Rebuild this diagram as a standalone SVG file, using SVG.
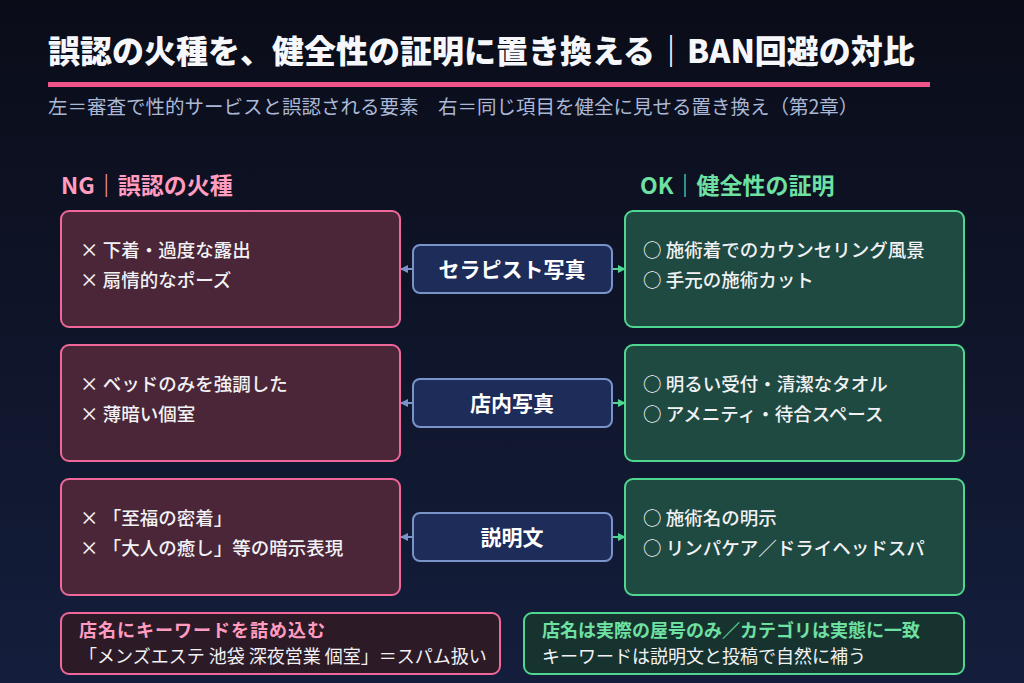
<svg xmlns="http://www.w3.org/2000/svg" width="1024" height="683" viewBox="0 0 1024 683">
<defs>
<linearGradient id="bg" x1="0" y1="0" x2="0" y2="1"><stop offset="0" stop-color="#0a0c18"/><stop offset="1" stop-color="#141e3c"/></linearGradient>
<marker id="ab" markerWidth="8" markerHeight="8" refX="7" refY="4" orient="auto" markerUnits="userSpaceOnUse"><path d="M0,0 L8,4 L0,8z" fill="#7a93c8"/></marker>
<marker id="ag" markerWidth="8" markerHeight="8" refX="7" refY="4" orient="auto" markerUnits="userSpaceOnUse"><path d="M0,0 L8,4 L0,8z" fill="#4fd690"/></marker>
</defs>
<style>
text{font-family:"Noto Sans CJK JP","Noto Sans",sans-serif}
.ng{fill:#4a2638;stroke:#f0679a;stroke-width:2}
.ok{fill:#1f4a42;stroke:#4fd690;stroke-width:2}
.mid{fill:#1d2c58;stroke:#7a93c8;stroke-width:2}
.it{fill:#f2f2f5;font-size:18.5px;font-weight:500}
.mt{fill:#ffffff;font-size:21px;font-weight:700}
</style>
<rect width="1024" height="683" fill="url(#bg)"/>
<text x="48" y="63" fill="#f5f7fb" font-size="32" font-weight="900">誤認の火種を、健全性の証明に置き換える｜BAN回避の対比</text>
<rect x="48" y="82" width="882" height="5" fill="#f0538a"/>
<text x="48" y="114" fill="#aab8d6" font-size="19.5">左＝審査で性的サービスと誤認される要素　右＝同じ項目を健全に見せる置き換え（第2章）</text>
<text x="61" y="194" fill="#ff9cc0" font-size="23" font-weight="700">NG｜誤認の火種</text>
<text x="640" y="194" fill="#6ee0a2" font-size="23" font-weight="700">OK｜健全性の証明</text>
<g id="connectors" stroke-width="2" fill="none">
<line x1="413" y1="269" x2="401" y2="269" stroke="#7a93c8" marker-end="url(#ab)"/>
<line x1="612" y1="269" x2="625" y2="269" stroke="#4fd690" marker-end="url(#ag)"/>
<line x1="413" y1="403" x2="401" y2="403" stroke="#7a93c8" marker-end="url(#ab)"/>
<line x1="612" y1="403" x2="625" y2="403" stroke="#4fd690" marker-end="url(#ag)"/>
<line x1="413" y1="537" x2="401" y2="537" stroke="#7a93c8" marker-end="url(#ab)"/>
<line x1="612" y1="537" x2="625" y2="537" stroke="#4fd690" marker-end="url(#ag)"/>
</g>
<g id="ng1"><rect class="ng" x="61" y="211" width="339" height="116" rx="8"/><text class="it" x="80" y="257">× 下着・過度な露出</text><text class="it" x="80" y="287">× 扇情的なポーズ</text></g>
<g id="ng2"><rect class="ng" x="61" y="345" width="339" height="116" rx="8"/><text class="it" x="80" y="391">× ベッドのみを強調した</text><text class="it" x="80" y="421">× 薄暗い個室</text></g>
<g id="ng3"><rect class="ng" x="61" y="479" width="339" height="116" rx="8"/><text class="it" x="80" y="525">× 「至福の密着」</text><text class="it" x="80" y="555">× 「大人の癒し」等の暗示表現</text></g>
<g id="ok1"><rect class="ok" x="625" y="211" width="339" height="116" rx="8"/><text class="it" x="643" y="257">○ 施術着でのカウンセリング風景</text><text class="it" x="643" y="287">○ 手元の施術カット</text></g>
<g id="ok2"><rect class="ok" x="625" y="345" width="339" height="116" rx="8"/><text class="it" x="643" y="391">○ 明るい受付・清潔なタオル</text><text class="it" x="643" y="421">○ アメニティ・待合スペース</text></g>
<g id="ok3"><rect class="ok" x="625" y="479" width="339" height="116" rx="8"/><text class="it" x="643" y="525">○ 施術名の明示</text><text class="it" x="643" y="555">○ リンパケア／ドライヘッドスパ</text></g>
<g id="mid1"><rect class="mid" x="413" y="245" width="199" height="48" rx="7"/><text class="mt" x="512" y="277" text-anchor="middle">セラピスト写真</text></g>
<g id="mid2"><rect class="mid" x="413" y="379" width="199" height="48" rx="7"/><text class="mt" x="512" y="411" text-anchor="middle">店内写真</text></g>
<g id="mid3"><rect class="mid" x="413" y="513" width="199" height="48" rx="7"/><text class="mt" x="512" y="545" text-anchor="middle">説明文</text></g>
<g id="note-ng"><rect x="61" y="613" width="439" height="61" rx="8" fill="#2c1a26" stroke="#f0679a" stroke-width="2"/><text x="79" y="637" fill="#ff9cc0" font-size="18" font-weight="700" letter-spacing="1">店名にキーワードを詰め込む</text><text x="79" y="663" fill="#f2f2f5" font-size="18">「メンズエステ 池袋 深夜営業 個室」＝スパム扱い</text></g>
<g id="note-ok"><rect x="524" y="613" width="440" height="61" rx="8" fill="#17332f" stroke="#4fd690" stroke-width="2"/><text x="542" y="637" fill="#6ee0a2" font-size="18" font-weight="700">店名は実際の屋号のみ／カテゴリは実態に一致</text><text x="542" y="663" fill="#f2f2f5" font-size="18">キーワードは説明文と投稿で自然に補う</text></g>
</svg>
